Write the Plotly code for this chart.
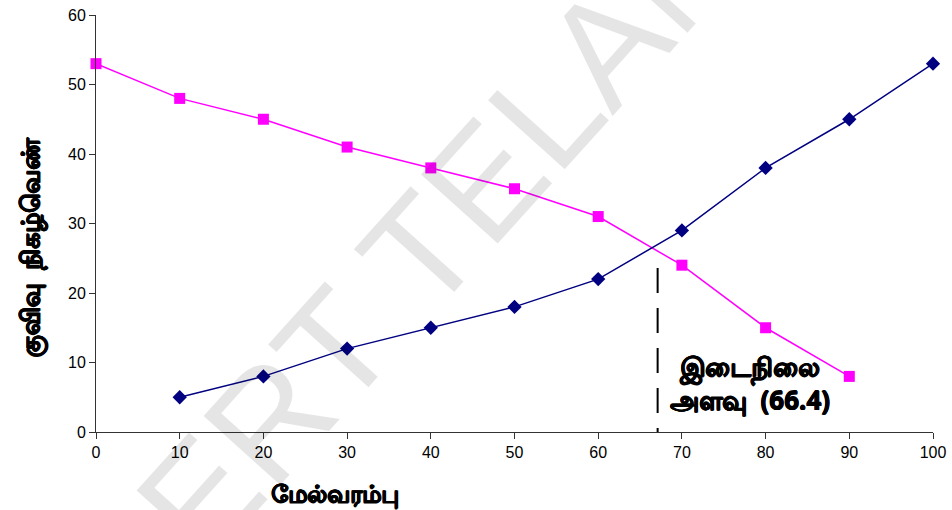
import plotly.graph_objects as go

# less-than ogive (upper limits) and more-than ogive
upper_limits = [10, 20, 30, 40, 50, 60, 70, 80, 90, 100]
less_than_cf = [5, 8, 12, 15, 18, 22, 29, 38, 45, 53]
lower_limits = [0, 10, 20, 30, 40, 50, 60, 70, 80, 90]
more_than_cf = [53, 48, 45, 41, 38, 35, 31, 24, 15, 8]
median_x = 67.1
median_label = "இடைநிலை<br>அளவு  (66.4)"

W, H = 952, 510
L, R, T, B = 96, 19, 15, 78
pw, ph = W - L - R, H - T - B
heavy = "0.5px 0 0 black, -0.5px 0 0 black, 0 0.5px 0 black, 0 -0.5px 0 black"


def px(x, y):
    # page pixel -> paper coords
    return (x - L) / pw, (H - B - y) / ph


fig = go.Figure()
fig.add_trace(go.Scatter(x=lower_limits, y=more_than_cf, mode="lines+markers",
                         line=dict(color="#FF00FF", width=1.5),
                         marker=dict(symbol="square", size=11, color="#FF00FF"),
                         cliponaxis=False))
fig.add_trace(go.Scatter(x=upper_limits, y=less_than_cf, mode="lines+markers",
                         line=dict(color="#000080", width=1.5),
                         marker=dict(symbol="diamond", size=11, color="#000080"),
                         cliponaxis=False))

fig.add_shape(type="line", x0=median_x, x1=median_x, y0=23.6, y1=-4, xref="x", yref="y",
              line=dict(color="black", width=2, dash="25px,15px"))

# faint diagonal watermark, cut off by the page edges as in the original
wx, wy = px(512, 150)
fig.add_annotation(x=wx, y=wy, xref="paper", yref="paper", text="SCERT TELANGANA",
                   textangle=-48, showarrow=False, xanchor="center", yanchor="middle",
                   font=dict(family="Liberation Sans", size=150, color="rgba(0,0,0,0.1)"))

mx, my = px(750, 383)
fig.add_annotation(x=mx, y=my, xref="paper", yref="paper", text="<b>" + median_label + "</b>",
                   showarrow=False, xanchor="center", yanchor="middle",
                   font=dict(family="Noto Sans", size=26, color="black", shadow=heavy))
tx, ty = px(335, 492)
fig.add_annotation(x=tx, y=ty, xref="paper", yref="paper", text="<b>மேல்வரம்பு</b>",
                   showarrow=False, xanchor="center", yanchor="middle",
                   font=dict(family="Noto Sans", size=24, color="black", shadow=heavy))
yx, yy = px(30, 247)
fig.add_annotation(x=yx, y=yy, xref="paper", yref="paper",
                   text="<b>குவிவு  நிகழ்வெண்</b>", textangle=-90, showarrow=False,
                   xanchor="center", yanchor="middle",
                   font=dict(family="Noto Sans", size=25, color="black", shadow=heavy))

fig.update_layout(
    width=W, height=H,
    margin=dict(l=L, r=R, t=T, b=B),
    paper_bgcolor="white", plot_bgcolor="white",
    showlegend=False,
    font=dict(family="Liberation Sans", size=16, color="black"),
    xaxis=dict(range=[0, 100], tickvals=list(range(0, 101, 10)), showgrid=False, zeroline=False,
               showline=True, linecolor="#333", ticks="outside", ticklen=6, tickcolor="#333",
               automargin=False),
    yaxis=dict(range=[0, 60], tickvals=list(range(0, 61, 10)), showgrid=False, zeroline=False,
               showline=True, linecolor="#333", ticks="outside", ticklen=6, tickcolor="#333",
               automargin=False),
)

# drop the default 8px page margin so the figure fills the window exactly
fig.write_html("out.html", config={"displayModeBar": False},
               post_script="document.body.style.margin='0';")
